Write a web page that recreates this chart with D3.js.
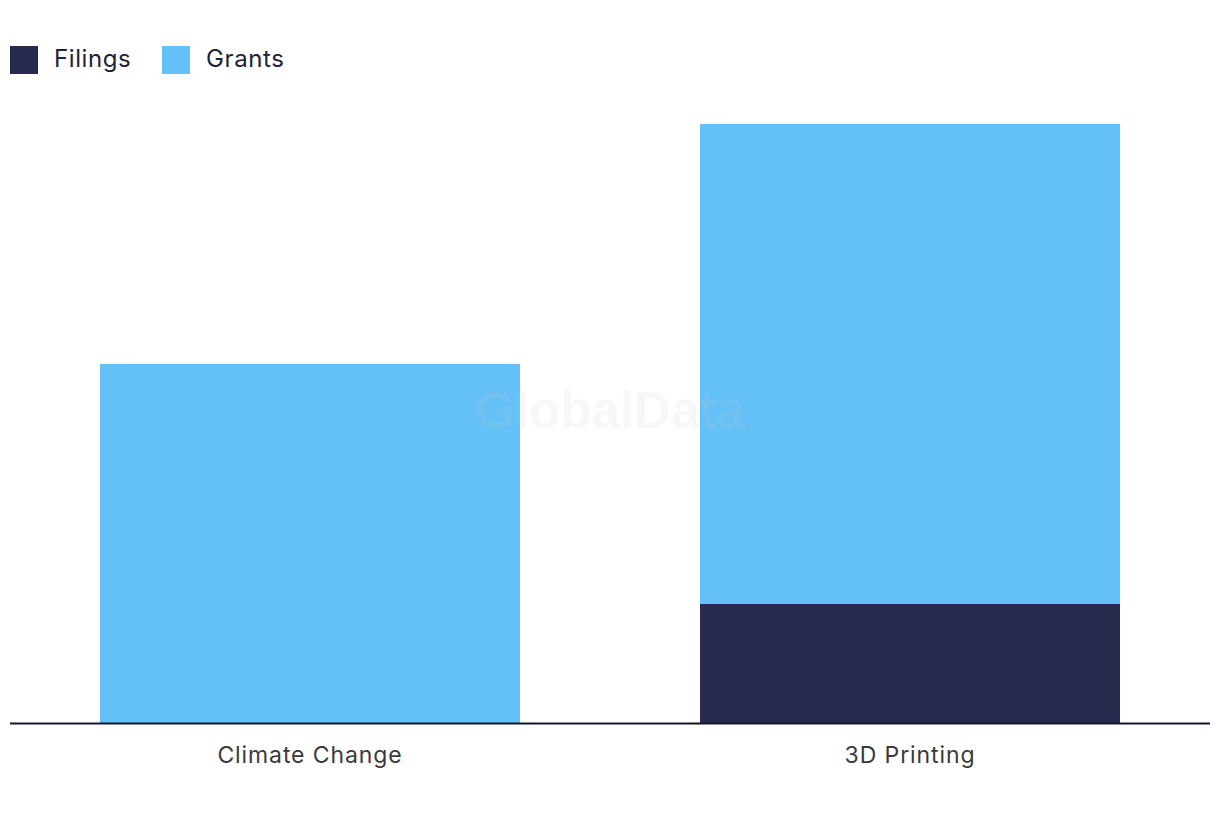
<!DOCTYPE html>
<html>
<head>
<meta charset="utf-8">
<script src="https://cdn.jsdelivr.net/npm/d3@7"></script>
<style>
  body { margin: 0; background: #fff; }
  svg { display: block; font-family: Inter, "Noto Sans", sans-serif; }
</style>
</head>
<body>
<svg id="chart" width="1220" height="820"></svg>
<script>
// data
const categories = ["Climate Change", "3D Printing"];
const seriesNames = ["Filings", "Grants"];
const filings = [0, 3];
const grants = [9, 12];
const colors = ["#272a4d", "#63c1f8"];

const svg = d3.select("#chart");

const x = d3.scaleBand().domain(categories).range([10, 1210])
    .paddingInner(0.3).paddingOuter(0.15);
const y = d3.scaleLinear().domain([0, 15]).range([724, 124]);

// stack the two series
const rows = categories.map((c, i) => ({ category: c, Filings: filings[i], Grants: grants[i] }));
const stacked = d3.stack().keys(seriesNames)(rows);
const color = d3.scaleOrdinal(seriesNames, colors);

svg.append("g").selectAll("g").data(stacked).enter().append("g")
    .attr("fill", d => color(d.key))
    .selectAll("rect").data(d => d).enter().append("rect")
    .attr("x", d => x(d.data.category))
    .attr("width", x.bandwidth())
    .attr("y", d => y(d[1]))
    .attr("height", d => y(d[0]) - y(d[1]));

// watermark
svg.append("text")
    .attr("x", 610).attr("y", 428)
    .attr("text-anchor", "middle")
    .attr("font-family", "'Liberation Sans', Arial, sans-serif")
    .attr("font-weight", "bold")
    .attr("font-size", 51)
    .attr("fill", "#c8c8c8").attr("fill-opacity", 0.15)
    .text("GlobalData");

// x axis
const xAxis = svg.append("g").attr("transform", "translate(0,723.5)")
    .call(d3.axisBottom(x).tickSize(0).tickPadding(23));
xAxis.select(".domain").attr("stroke", "#15162a").attr("stroke-width", 2)
    .attr("d", "M10,0H1210");
xAxis.selectAll("text")
    .attr("font-family", "Inter, 'Noto Sans', sans-serif")
    .attr("font-size", 23)
    .attr("letter-spacing", 0.9)
    .attr("fill", "#3a3a3a");

// legend
const legend = svg.append("g").selectAll("g").data(seriesNames).enter().append("g")
    .attr("transform", (d, i) => `translate(${[10, 162][i]},46)`);
legend.append("rect").attr("width", 28).attr("height", 28).attr("fill", d => color(d));
legend.append("text").attr("x", 44).attr("y", 21)
    .attr("font-size", 24).attr("letter-spacing", 0.6).attr("fill", "#20223a")
    .text(d => d);
</script>
</body>
</html>
